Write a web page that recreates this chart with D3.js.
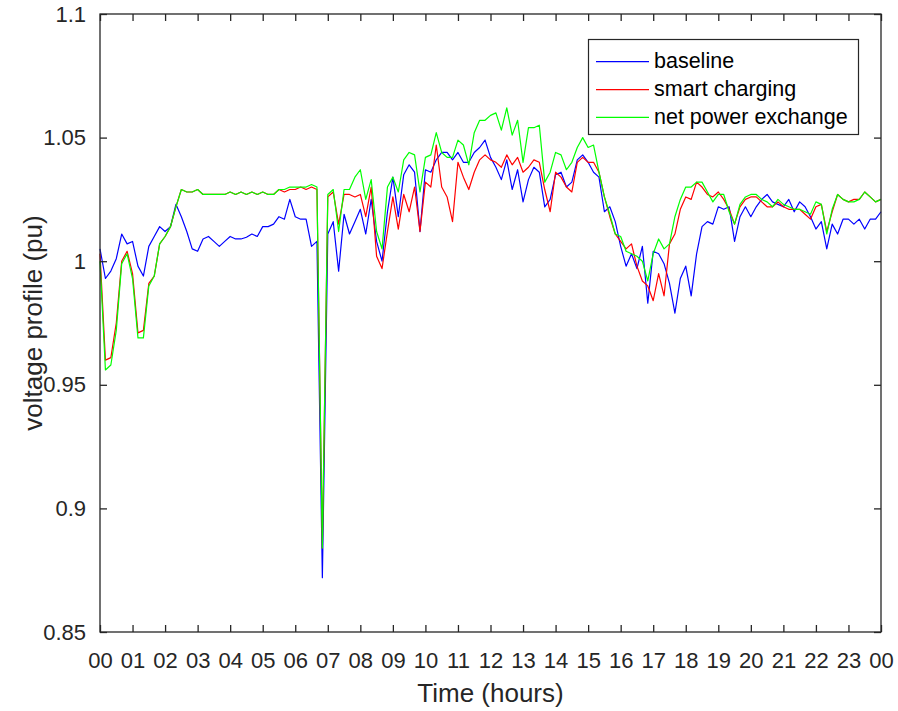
<!DOCTYPE html>
<html><head><meta charset="utf-8">
<script src="https://cdn.jsdelivr.net/npm/d3@7"></script>
<style>html,body{margin:0;padding:0;background:#fff}</style>
</head><body>
<svg id="chart" width="898" height="711"></svg>
<script>
// time grid in hours (10-minute steps, 00:00 to 24:00)
const timeHours = d3.range(0, 145).map(i => i / 6);

const baseline = [
1.005,0.993,0.996,1.001,1.011,1.007,1.008,0.998,0.994,1.006,
1.010,1.014,1.012,1.014,1.023,1.018,1.012,1.005,1.004,1.009,
1.010,1.008,1.006,1.008,1.010,1.009,1.009,1.0097,1.011,1.010,
1.014,1.014,1.015,1.018,1.017,1.025,1.018,1.017,1.017,1.006,
1.008,0.872,1.011,1.016,0.996,1.019,1.011,1.016,1.021,1.011,
1.025,1.008,1.000,1.020,1.034,1.018,1.035,1.039,1.036,1.012,
1.037,1.036,1.041,1.044,1.044,1.041,1.044,1.040,1.040,1.044,
1.046,1.049,1.042,1.038,1.033,1.041,1.029,1.037,1.024,1.033,
1.038,1.036,1.022,1.025,1.035,1.036,1.030,1.032,1.041,1.043,
1.040,1.036,1.034,1.020,1.022,1.016,1.006,0.998,1.003,0.997,
1.006,0.983,1.004,1.003,0.999,0.991,0.979,0.993,0.998,0.986,
1.003,1.014,1.016,1.015,1.022,1.021,1.022,1.008,1.018,1.022,
1.018,1.022,1.025,1.027,1.024,1.023,1.022,1.025,1.020,1.024,
1.022,1.018,1.013,1.016,1.005,1.015,1.011,1.017,1.017,1.015,
1.017,1.013,1.017,1.017,1.020];

const smartCharging = [
1.003,0.960,0.961,0.975,1.000,1.004,0.995,0.971,0.972,0.991,
0.994,1.007,1.010,1.014,1.022,1.029,1.028,1.028,1.029,1.027,
1.027,1.027,1.027,1.027,1.028,1.027,1.028,1.027,1.028,1.027,
1.028,1.027,1.027,1.029,1.028,1.029,1.029,1.030,1.029,1.030,
1.029,0.884,1.026,1.028,1.015,1.027,1.027,1.026,1.027,1.018,
1.030,1.002,0.997,1.012,1.026,1.013,1.027,1.020,1.030,1.012,
1.032,1.030,1.047,1.030,1.026,1.016,1.040,1.034,1.029,1.036,
1.041,1.043,1.041,1.040,1.038,1.043,1.039,1.042,1.036,1.038,
1.041,1.040,1.029,1.020,1.036,1.034,1.030,1.028,1.040,1.042,
1.040,1.040,1.036,1.026,1.018,1.011,1.008,1.005,1.007,0.998,
0.992,0.990,0.984,0.995,0.986,1.007,1.011,1.021,1.026,1.025,
1.032,1.030,1.027,1.026,1.028,1.025,1.021,1.015,1.022,1.025,
1.026,1.026,1.024,1.022,1.022,1.024,1.022,1.021,1.021,1.021,
1.019,1.017,1.022,1.023,1.012,1.020,1.027,1.025,1.024,1.025,
1.025,1.028,1.026,1.024,1.025];

const netPowerExchange = [
1.000,0.956,0.958,0.972,0.999,1.003,0.993,0.969,0.969,0.990,
0.994,1.007,1.010,1.014,1.022,1.029,1.028,1.028,1.029,1.027,
1.027,1.027,1.027,1.027,1.028,1.027,1.028,1.027,1.028,1.027,
1.028,1.027,1.027,1.029,1.029,1.030,1.030,1.030,1.030,1.031,
1.030,0.884,1.027,1.029,1.012,1.029,1.029,1.034,1.037,1.025,
1.033,1.012,1.005,1.030,1.034,1.028,1.041,1.044,1.043,1.028,
1.042,1.043,1.052,1.044,1.042,1.042,1.049,1.047,1.039,1.052,
1.057,1.057,1.059,1.060,1.053,1.062,1.051,1.057,1.040,1.054,
1.054,1.055,1.032,1.036,1.044,1.043,1.037,1.040,1.046,1.050,
1.046,1.047,1.036,1.026,1.019,1.011,1.010,1.004,1.003,1.002,
1.000,0.992,1.003,1.009,1.005,1.007,1.018,1.025,1.030,1.030,
1.032,1.032,1.028,1.024,1.027,1.027,1.020,1.015,1.023,1.026,
1.027,1.027,1.025,1.024,1.022,1.025,1.023,1.022,1.021,1.021,
1.020,1.019,1.024,1.023,1.011,1.021,1.027,1.025,1.024,1.024,
1.025,1.028,1.026,1.024,1.025];

const seriesNames = ["baseline", "smart charging", "net power exchange"];
const seriesColors = ["#0000ff", "#ff0000", "#00ff00"];
const seriesValues = [baseline, smartCharging, netPowerExchange];

const xTickValues = d3.range(0, 25);
const xTickLabels = ["00","01","02","03","04","05","06","07","08","09","10","11",
  "12","13","14","15","16","17","18","19","20","21","22","23","00"];
const yTickValues = [0.85, 0.9, 0.95, 1, 1.05, 1.1];
const yTickLabels = ["0.85", "0.9", "0.95", "1", "1.05", "1.1"];

(function draw() {
const FONT = "'Liberation Sans', Arial, Helvetica, sans-serif";
const AX = "#262626";
const pL = 100, pR = 881, pT = 14, pB = 632;

const svg = d3.select("#chart");
svg.append("rect").attr("width", 898).attr("height", 711).attr("fill", "#fff");

const x = d3.scaleLinear().domain([0, 24]).range([pL, pR]);
const y = d3.scaleLinear().domain([0.85, 1.1]).range([pB, pT]);

// series
const line = d3.line().x((d, i) => x(timeHours[i])).y(d => y(d));
const plot = svg.append("g");
seriesValues.forEach((vals, k) => {
  plot.append("path").datum(vals)
    .attr("d", line)
    .attr("fill", "none")
    .attr("stroke", seriesColors[k])
    .attr("stroke-width", 1.2)
    .attr("stroke-linejoin", "round");
});

// axes
function styleAxis(g) {
  g.select(".domain").remove();
  g.selectAll(".tick line").attr("stroke", AX).attr("stroke-width", 1.3);
  g.selectAll(".tick text").attr("fill", AX).attr("font-family", FONT).attr("font-size", 22);
}
const TK = 7;
svg.append("g").attr("transform", `translate(0,${pB})`)
  .call(d3.axisBottom(x).tickValues(xTickValues).tickSize(-TK).tickPadding(20)
    .tickFormat((d, i) => xTickLabels[i]))
  .call(styleAxis);
svg.append("g").attr("transform", `translate(0,${pT})`)
  .call(d3.axisTop(x).tickValues(xTickValues).tickSize(-TK).tickFormat(""))
  .call(styleAxis);
svg.append("g").attr("transform", `translate(${pL},0)`)
  .call(d3.axisLeft(y).tickValues(yTickValues).tickSize(-TK).tickPadding(14)
    .tickFormat((d, i) => yTickLabels[i]))
  .call(styleAxis);
svg.append("g").attr("transform", `translate(${pR},0)`)
  .call(d3.axisRight(y).tickValues(yTickValues).tickSize(-TK).tickFormat(""))
  .call(styleAxis);

svg.append("rect")
  .attr("x", pL).attr("y", pT)
  .attr("width", pR - pL).attr("height", pB - pT)
  .attr("fill", "none").attr("stroke", AX).attr("stroke-width", 1.3);

// axis titles
svg.append("text").attr("x", (pL + pR) / 2).attr("y", 702)
  .attr("text-anchor", "middle").attr("font-family", FONT).attr("font-size", 26)
  .attr("fill", AX).text("Time (hours)");
svg.append("text").attr("transform", `translate(42,${(pT + pB) / 2}) rotate(-90)`)
  .attr("text-anchor", "middle").attr("font-family", FONT).attr("font-size", 26)
  .attr("fill", AX).text("voltage profile (pu)");

// legend
const lg = svg.append("g");
lg.append("rect").attr("x", 588.5).attr("y", 39.5).attr("width", 270).attr("height", 95)
  .attr("fill", "#fff").attr("stroke", AX).attr("stroke-width", 1.2);
const rowY = [61.7, 89.7, 117.3];
seriesNames.forEach((name, k) => {
  lg.append("line").attr("x1", 596).attr("x2", 649).attr("y1", rowY[k]).attr("y2", rowY[k])
    .attr("stroke", seriesColors[k]).attr("stroke-width", 1.2);
  lg.append("text").attr("x", 654).attr("y", rowY[k]).attr("dy", "0.3em")
    .attr("font-family", FONT).attr("font-size", 21.5).attr("fill", "#000").text(name);
});
})();
</script>
</body></html>
